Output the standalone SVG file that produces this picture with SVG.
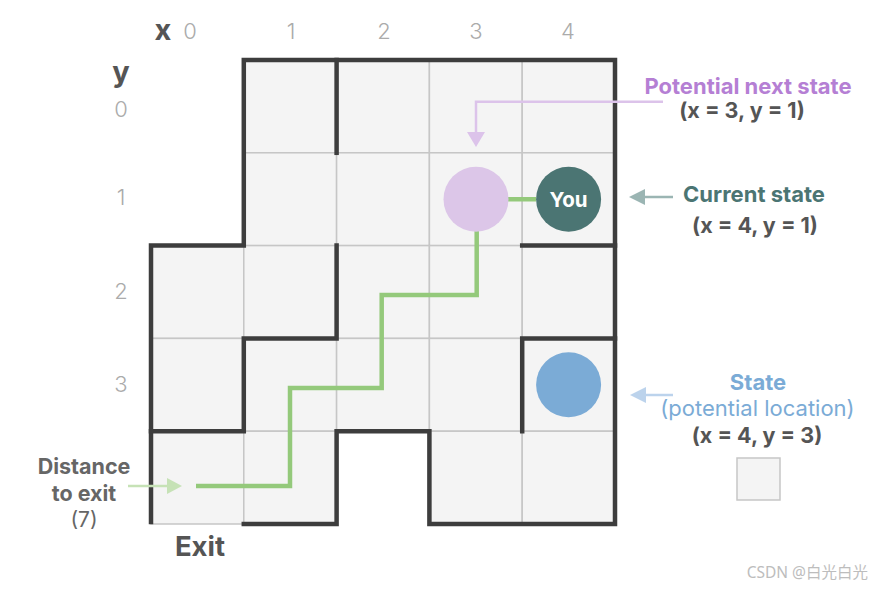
<svg xmlns="http://www.w3.org/2000/svg" width="876" height="589" viewBox="0 0 876 589">
  <defs>
    <style>
      .cell { fill: #f4f4f4; stroke: #c6c6c6; stroke-width: 1.5; }
      .wall { fill: none; stroke: #3d3d3d; stroke-width: 4.5; stroke-linecap: square; stroke-linejoin: miter; }
      .t { font-family: Inter, "Noto Sans", "Liberation Sans", sans-serif; }
      .axis { font-size: 22px; fill: #ababab; font-weight: 300; text-anchor: middle; }
      .axisname { font-size: 29px; fill: #555; font-weight: 700; text-anchor: middle; }
      .b { font-weight: 700; text-anchor: middle; }
      .coord { font-size: 21.5px; fill: #555; font-weight: 700; text-anchor: middle; }
      .arrow { fill: none; stroke-width: 2.5; }
    </style>
    <marker id="hPurple" markerUnits="userSpaceOnUse" markerWidth="16" markerHeight="18" refX="0" refY="9" orient="auto">
      <path d="M0,0 L15,9 L0,18 z" fill="#dcc3ea"/>
    </marker>
    <marker id="hGreen" markerUnits="userSpaceOnUse" markerWidth="16" markerHeight="18" refX="0" refY="9" orient="auto">
      <path d="M0,1 L15,9 L0,17 z" fill="#c6e2b6"/>
    </marker>
    <marker id="hTeal" markerUnits="userSpaceOnUse" markerWidth="16" markerHeight="18" refX="0" refY="9" orient="auto">
      <path d="M0,1 L16,9 L0,17 z" fill="#9bb5b3"/>
    </marker>
    <marker id="hBlue" markerUnits="userSpaceOnUse" markerWidth="16" markerHeight="18" refX="0" refY="9" orient="auto">
      <path d="M0,1 L16,9 L0,17 z" fill="#bcd3ec"/>
    </marker>
  </defs>
  <rect width="876" height="589" fill="#ffffff"/>

  <g id="grid">
    <rect class="cell" x="243.8" y="60" width="92.8" height="92.8"/>
    <rect class="cell" x="336.6" y="60" width="92.8" height="92.8"/>
    <rect class="cell" x="429.4" y="60" width="92.8" height="92.8"/>
    <rect class="cell" x="522.2" y="60" width="92.8" height="92.8"/>
    <rect class="cell" x="243.8" y="152.8" width="92.8" height="92.8"/>
    <rect class="cell" x="336.6" y="152.8" width="92.8" height="92.8"/>
    <rect class="cell" x="429.4" y="152.8" width="92.8" height="92.8"/>
    <rect class="cell" x="522.2" y="152.8" width="92.8" height="92.8"/>
    <rect class="cell" x="151" y="245.6" width="92.8" height="92.8"/>
    <rect class="cell" x="243.8" y="245.6" width="92.8" height="92.8"/>
    <rect class="cell" x="336.6" y="245.6" width="92.8" height="92.8"/>
    <rect class="cell" x="429.4" y="245.6" width="92.8" height="92.8"/>
    <rect class="cell" x="522.2" y="245.6" width="92.8" height="92.8"/>
    <rect class="cell" x="151" y="338.4" width="92.8" height="92.8"/>
    <rect class="cell" x="243.8" y="338.4" width="92.8" height="92.8"/>
    <rect class="cell" x="336.6" y="338.4" width="92.8" height="92.8"/>
    <rect class="cell" x="429.4" y="338.4" width="92.8" height="92.8"/>
    <rect class="cell" x="522.2" y="338.4" width="92.8" height="92.8"/>
    <rect class="cell" x="151" y="431.2" width="92.8" height="92.8"/>
    <rect class="cell" x="243.8" y="431.2" width="92.8" height="92.8"/>
    <rect class="cell" x="429.4" y="431.2" width="92.8" height="92.8"/>
    <rect class="cell" x="522.2" y="431.2" width="92.8" height="92.8"/>
  </g>

  <g id="walls">
    <path class="wall" d="M151,522 V245.6 H243.8 V60 H615 V524 H429.4 V431.2 H336.6 V524 H243.8"/>
    <path class="wall" d="M336.6,60 V152.8"/>
    <path class="wall" d="M336.6,245.6 V338.4 H243.8 V431.2 H151"/>
    <path class="wall" d="M522.2,245.6 H615"/>
    <path class="wall" d="M522.2,431.2 V338.4 H615"/>
  </g>

  <g id="axes" class="t">
    <text class="axisname" x="163" y="40">x</text>
    <text class="axis" x="190" y="39">0</text>
    <text class="axis" x="291" y="39">1</text>
    <text class="axis" x="384" y="39">2</text>
    <text class="axis" x="476" y="39">3</text>
    <text class="axis" x="568" y="39">4</text>
    <text class="axisname" x="121" y="82">y</text>
    <text class="axis" x="121" y="117">0</text>
    <text class="axis" x="121" y="205">1</text>
    <text class="axis" x="121" y="299">2</text>
    <text class="axis" x="121" y="392">3</text>
  </g>

  <g id="connectors">
    <path d="M508,199.2 H536 M476.7,231 V295 H381.7 V388 H290 V486 H196" fill="none" stroke="#94c97b" stroke-width="4.5" stroke-linejoin="miter"/>
    <path class="arrow" d="M663,101.7 H476 V132" stroke="#dcc3ea" marker-end="url(#hPurple)"/>
    <path class="arrow" d="M128,486 H167" stroke="#c6e2b6" marker-end="url(#hGreen)"/>
    <path class="arrow" d="M673,197 H645" stroke="#9bb5b3" marker-end="url(#hTeal)"/>
    <path class="arrow" d="M673,395 H646" stroke="#bcd3ec" marker-end="url(#hBlue)"/>
  </g>

  <g id="next-state">
    <circle cx="476" cy="199.2" r="32.5" fill="#dcc6e8"/>
  </g>
  <g id="current-state">
    <circle cx="568.6" cy="199.2" r="32.5" fill="#4b7573"/>
    <text class="t b" x="568.6" y="206.5" font-size="20.5" fill="#ffffff">You</text>
  </g>
  <g id="state">
    <circle cx="568.6" cy="384.8" r="32.5" fill="#7babd6"/>
  </g>

  <g id="labels" class="t">
    <text class="b" x="748" y="93.5" font-size="22" fill="#b57fd4">Potential next state</text>
    <text class="coord" x="742" y="118">(x = 3, y = 1)</text>
    <text class="b" x="754" y="202" font-size="22" fill="#4b7573">Current state</text>
    <text class="coord" x="755" y="233">(x = 4, y = 1)</text>
    <text class="b" x="758" y="390" font-size="22" fill="#7babd6">State</text>
    <text x="757.5" y="416" font-size="22" fill="#7babd6" text-anchor="middle">(potential location)</text>
    <text class="coord" x="757" y="443">(x = 4, y = 3)</text>
    <text class="b" x="84" y="474" font-size="21.5" fill="#666666">Distance</text>
    <text class="b" x="84" y="501" font-size="21.5" fill="#666666">to exit</text>
    <text x="84" y="527" font-size="21" fill="#666666" text-anchor="middle">(7)</text>
    <text class="b" x="200" y="556" font-size="27.5" fill="#555555">Exit</text>
  </g>

  <g id="legend">
    <rect x="737" y="458" width="43" height="42" fill="#f4f4f4" stroke="#c6c6c6" stroke-width="1.5"/>
  </g>

  <text x="868" y="578" font-family="'Noto Sans', 'Noto Sans CJK SC', sans-serif" font-size="15.5" fill="#bdbdbd" text-anchor="end">CSDN @白光白光</text>
</svg>
